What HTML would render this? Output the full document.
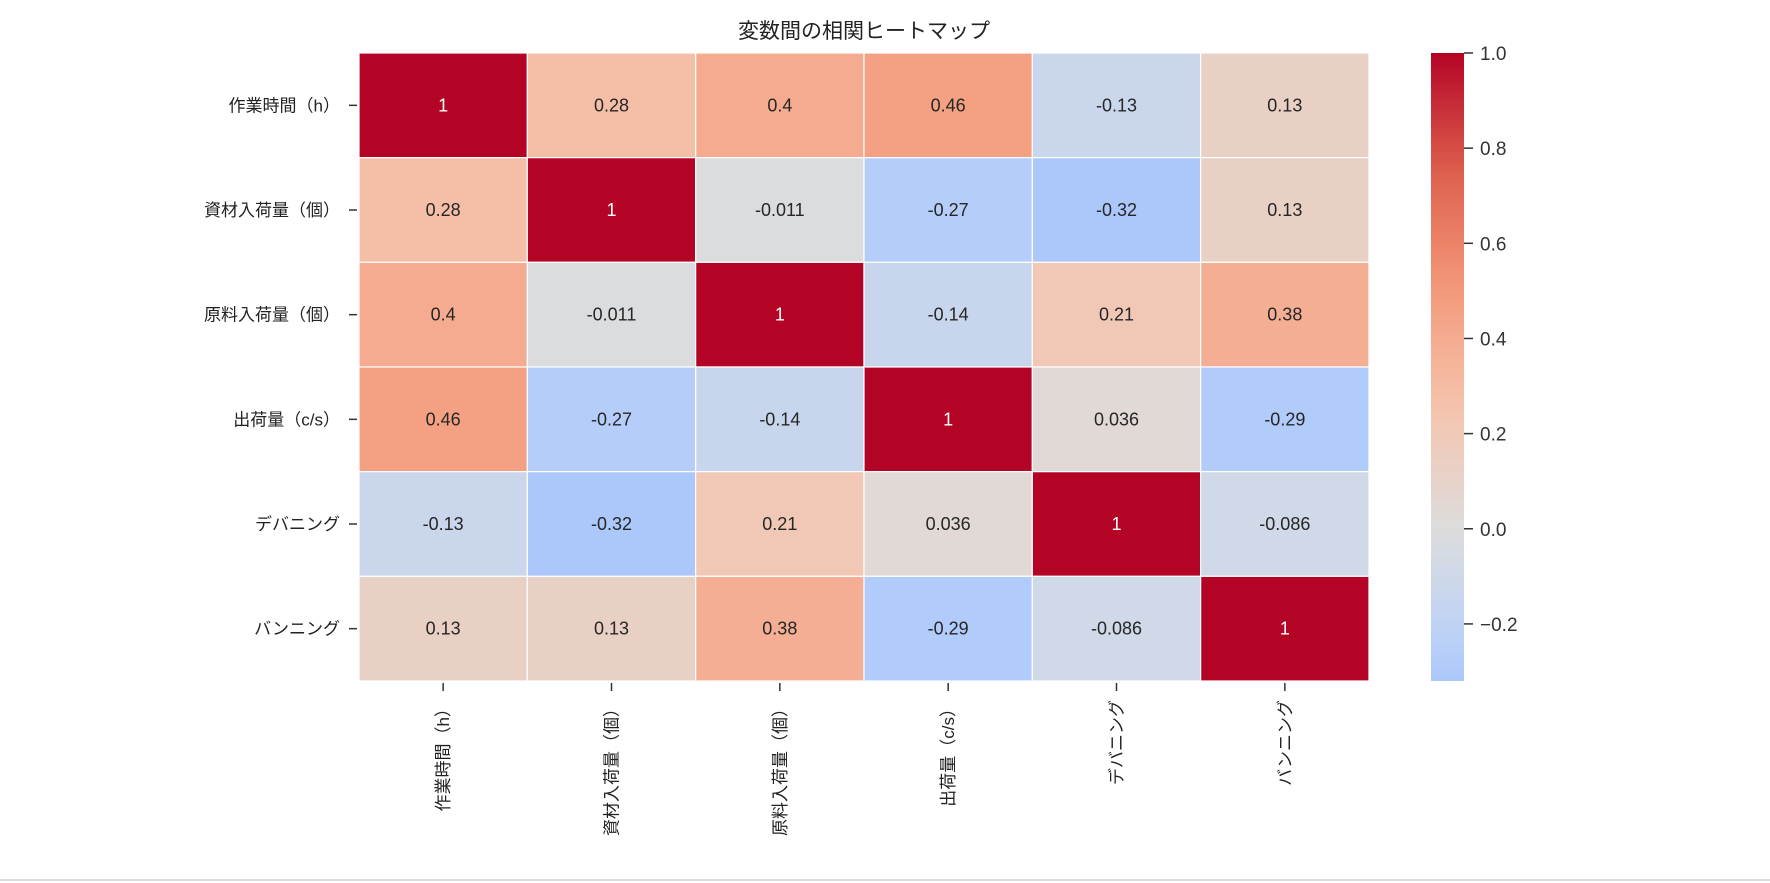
<!DOCTYPE html>
<html><head><meta charset="utf-8">
<style>
html,body{margin:0;padding:0;background:#fff;}
svg{display:block;font-family:"Liberation Sans","Noto Sans CJK JP",sans-serif;}
</style></head>
<body>
<svg id="chart" width="1770" height="883" viewBox="0 0 1770 883">
<defs>
<linearGradient id="cbgrad" x1="0" y1="1" x2="0" y2="0"></linearGradient>
</defs>
<text x="864" y="38" text-anchor="middle" font-size="21" fill="#222">変数間の相関ヒートマップ</text>
<g id="cells"></g>
<g id="ylabels"></g>
<g id="xlabels"></g>
<g id="colorbar"></g>
<line x1="0" y1="880" x2="1770" y2="880" stroke="#ddd" stroke-width="2"></line>
</svg>
<script>
const labels = ["作業時間（h）","資材入荷量（個）","原料入荷量（個）","出荷量（c/s）","デバニング","バンニング"];
const row0 = [1, 0.28, 0.4, 0.46, -0.13, 0.13];
const row1 = [0.28, 1, -0.011, -0.27, -0.32, 0.13];
const row2 = [0.4, -0.011, 1, -0.14, 0.21, 0.38];
const row3 = [0.46, -0.27, -0.14, 1, 0.036, -0.29];
const row4 = [-0.13, -0.32, 0.21, 0.036, 1, -0.086];
const row5 = [0.13, 0.13, 0.38, -0.29, -0.086, 1];
const matrix = [row0,row1,row2,row3,row4,row5];
const cbTicks = [1.0, 0.8, 0.6, 0.4, 0.2, 0.0, -0.2];
const cbTickLabels = ["1.0","0.8","0.6","0.4","0.2","0.0","−0.2"];
const vmin = -0.32, vmax = 1.0;

const NS="http://www.w3.org/2000/svg";
const X0=359, X1=1369, Y0=53, Y1=681;
const n=labels.length;
const cw=(X1-X0)/n, ch=(Y1-Y0)/n;
const xPos=i=>X0+i*cw;
const yPos=j=>Y0+j*ch;
const stops=[[0,[59,76,192]],[0.125,[98,130,234]],[0.25,[141,176,254]],[0.375,[184,208,249]],[0.5,[221,221,221]],[0.625,[245,196,173]],[0.75,[244,154,123]],[0.875,[222,96,77]],[1,[180,4,38]]];
function cmap(v){
  let t=(v+1)/2; t=Math.max(0,Math.min(1,t));
  for(let k=0;k<stops.length-1;k++){
    const a=stops[k],b=stops[k+1];
    if(t<=b[0]){const f=(t-a[0])/(b[0]-a[0]);
      const c=a[1].map((x,i)=>Math.round(x+(b[1][i]-x)*f));
      return `rgb(${c[0]},${c[1]},${c[2]})`;}
  }
  return "rgb(180,4,38)";
}
function mk(tag,attrs,parent){const e=document.createElementNS(NS,tag);for(const k in attrs)e.setAttribute(k,attrs[k]);parent.appendChild(e);return e;}

const cells=document.getElementById('cells');
matrix.forEach((row,j)=>{
  row.forEach((v,i)=>{
    const r=mk('rect',{x:xPos(i),y:yPos(j),width:cw,height:ch,fill:cmap(v),stroke:'#fff','stroke-width':1.2},cells);
    
    
    const t=mk('text',{x:xPos(i)+cw/2,y:yPos(j)+ch/2+6,'text-anchor':'middle','font-size':18,fill:(Math.abs(v)>0.6?'#fff':'#262626')},cells);
    t.textContent=String(v);
    
    
  });
});

const yl=document.getElementById('ylabels');
labels.forEach((l,j)=>{
  const cy=yPos(j)+ch/2;
  const tk=mk('line',{x1:X0-10,y1:cy,x2:X0-2,y2:cy,stroke:'#333','stroke-width':1.5},yl);
  
  
  const t=mk('text',{x:X0-19,y:cy+6,'text-anchor':'end','font-size':17,fill:'#222'},yl);
  t.textContent=l;
  
  
});

const xl=document.getElementById('xlabels');
labels.forEach((l,i)=>{
  const cx=xPos(i)+cw/2;
  const tk=mk('line',{x1:cx,y1:Y1+2,x2:cx,y2:Y1+10,stroke:'#333','stroke-width':1.5},xl);
  
  
  const t=mk('text',{x:0,y:0,'text-anchor':'end','font-size':17,fill:'#222',transform:`translate(${cx+6},${Y1+19}) rotate(-90)`},xl);
  t.textContent=l;
  
  
});

// colorbar
const CX0=1431, CX1=1464;
const cbY=v=>Y0+(vmax-v)/(vmax-vmin)*(Y1-Y0);
const grad=document.getElementById('cbgrad');
for(let k=0;k<=20;k++){
  const v=vmin+(vmax-vmin)*k/20;
  mk('stop',{offset:(k/20),'stop-color':cmap(v)},grad);
}
const cb=document.getElementById('colorbar');
const cbr=mk('rect',{x:CX0,y:Y0,width:CX1-CX0,height:Y1-Y0,fill:'url(#cbgrad)'},cb);


cbTicks.forEach((v,k)=>{
  const y=cbY(v);
  const tk=mk('line',{x1:CX1,y1:y,x2:CX1+9,y2:y,stroke:'#333','stroke-width':1.5},cb);
  
  
  const t=mk('text',{x:CX1+16,y:y+7,'font-size':19,fill:'#333'},cb);
  t.textContent=cbTickLabels[k];
  
  
});
</script>
</body></html>
